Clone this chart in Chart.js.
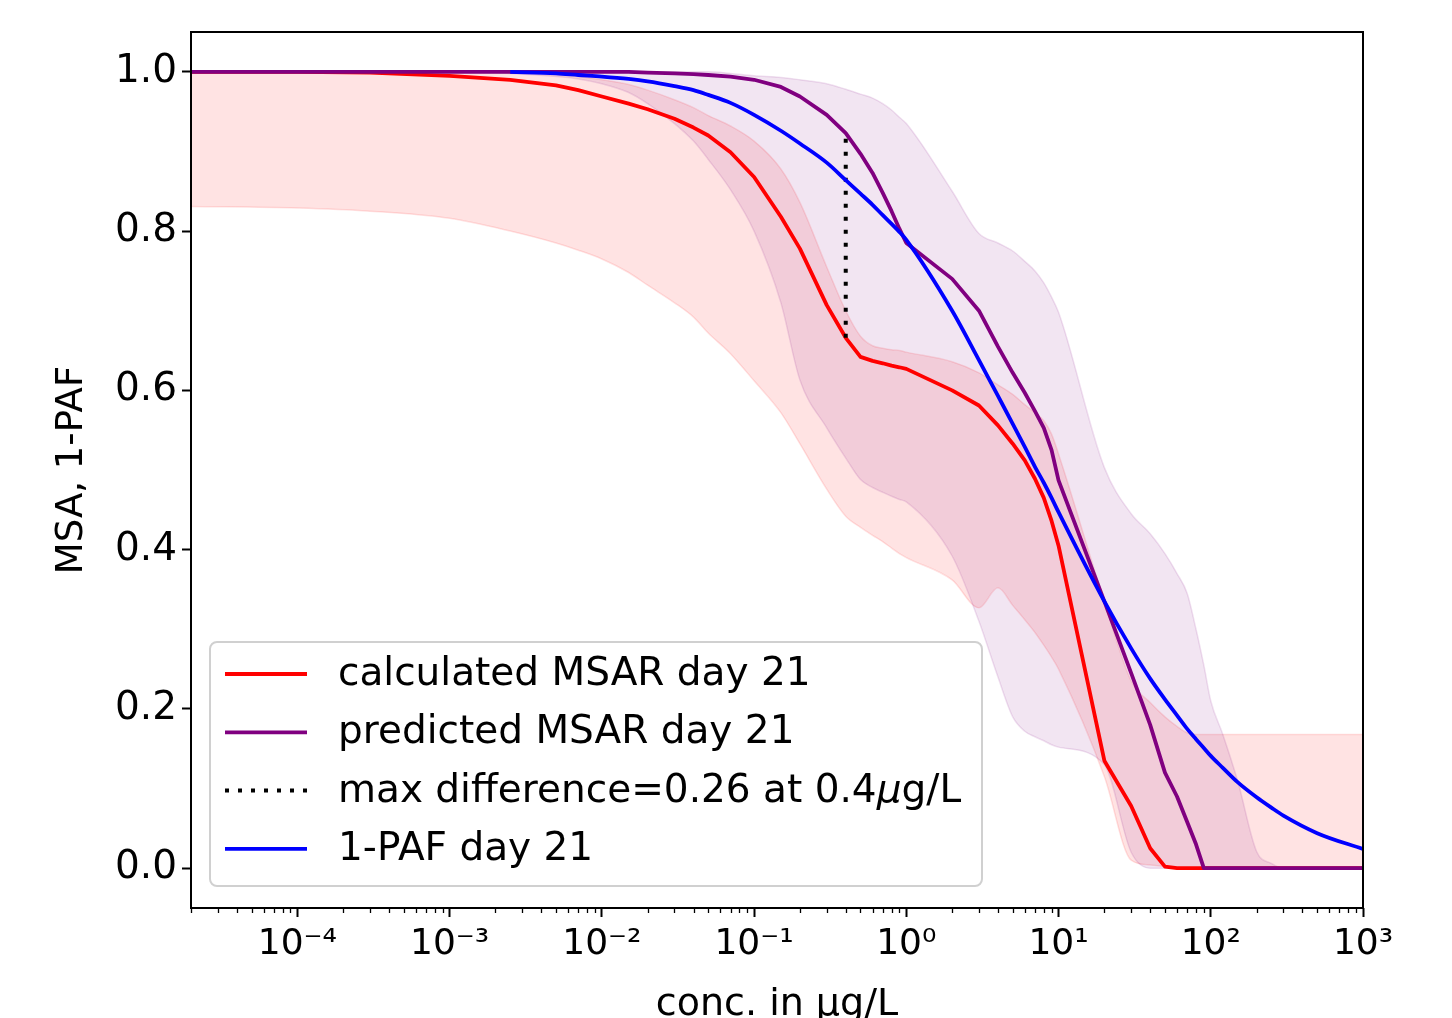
<!DOCTYPE html>
<html>
<head>
<meta charset="utf-8">
<title>MSA vs 1-PAF</title>
<script src="https://cdn.jsdelivr.net/npm/chart.js@4.4.1/dist/chart.umd.min.js"></script>
<style>
  html, body { margin: 0; padding: 0; background: #fff; }
  #wrap { position: relative; width: 1452px; height: 1018px; }
</style>
</head>
<body>
<div id="wrap"><canvas id="msaChart"></canvas></div>
<script>
const conc = [2e-5, 1e-4, 3e-4, 1e-3, 2.5e-3, 5e-3, 7e-3, 1e-2, 1.5e-2, 2e-2, 3e-2, 4e-2, 5e-2, 7e-2,
  0.1, 0.15, 0.2, 0.3, 0.4, 0.5, 0.6, 0.7, 0.8, 0.9, 1,
  2, 3, 4, 5, 6, 7, 8, 9, 10,
  20, 30, 40, 50, 60, 70, 80, 90, 100, 120, 150, 200, 250, 300, 500, 1000];

const calculated = [1.0, 1.0, 0.999, 0.995, 0.99, 0.983, 0.977, 0.969, 0.96, 0.953, 0.941, 0.93, 0.92, 0.899,
  0.868, 0.818, 0.778, 0.707, 0.666, 0.642, 0.637, 0.634, 0.631, 0.629, 0.627,
  0.6, 0.581, 0.556, 0.533, 0.512, 0.489, 0.465, 0.436, 0.405,
  0.135, 0.078, 0.025, 0.002, 0, 0, 0, 0, 0, 0, 0, 0, 0, 0, 0, 0];
const calculatedUpper = [1.0, 1.0, 1.0, 1.0, 1.0, 0.997, 0.994, 0.99, 0.984, 0.977, 0.965, 0.955, 0.945, 0.932,
  0.913, 0.878, 0.836, 0.755, 0.7, 0.668, 0.656, 0.653, 0.651, 0.65, 0.648,
  0.636, 0.622, 0.607, 0.595, 0.582, 0.572, 0.562, 0.545, 0.52,
  0.335, 0.235, 0.208, 0.19, 0.178, 0.17, 0.168, 0.168, 0.168, 0.168, 0.168, 0.168, 0.168, 0.168, 0.168, 0.168];
const calculatedLower = [0.831, 0.829, 0.825, 0.816, 0.8, 0.785, 0.776, 0.765, 0.748, 0.732, 0.71, 0.692, 0.672, 0.646,
  0.612, 0.572, 0.533, 0.476, 0.442, 0.428, 0.418, 0.41, 0.402, 0.395, 0.39,
  0.362, 0.327, 0.352, 0.33, 0.312, 0.296, 0.28, 0.265, 0.25,
  0.115, 0.01, 0.004, 0.002, 0, 0, 0, 0, 0, 0, 0, 0, 0, 0, 0, 0];

const predicted = [1.0, 1.0, 1.0, 1.0, 1.0, 1.0, 1.0, 1.0, 1.0, 0.999, 0.998, 0.997, 0.996, 0.994,
  0.99, 0.981, 0.969, 0.946, 0.923, 0.897, 0.873, 0.848, 0.825, 0.803, 0.785,
  0.74, 0.7, 0.655, 0.622, 0.597, 0.574, 0.553, 0.525, 0.487,
  0.335, 0.245, 0.18, 0.12, 0.09, 0.058, 0.03, 0.0, 0, 0, 0, 0, 0, 0, 0, 0];
const predictedUpper = [1.0, 1.0, 1.0, 1.0, 1.0, 1.0, 1.0, 1.0, 1.0, 1.0, 1.0, 1.0, 1.0, 0.998,
  0.995, 0.993, 0.99, 0.985, 0.978, 0.972, 0.967, 0.96, 0.952, 0.943, 0.935,
  0.85, 0.797, 0.785, 0.775, 0.762, 0.75, 0.735, 0.717, 0.698,
  0.503, 0.445, 0.42, 0.395, 0.37, 0.345, 0.3, 0.255, 0.21, 0.168, 0.11, 0.021, 0.006, 0, 0, 0];
const predictedLower = [1.0, 1.0, 1.0, 1.0, 0.998, 0.994, 0.991, 0.985, 0.974, 0.96, 0.935, 0.913, 0.89, 0.852,
  0.8, 0.71, 0.613, 0.553, 0.515, 0.488, 0.478, 0.472, 0.467, 0.463, 0.46,
  0.392, 0.31, 0.24, 0.19, 0.172, 0.165, 0.16, 0.155, 0.152,
  0.13, 0.02, 0, 0, 0, 0, 0, 0, 0, 0, 0, 0, 0, 0, 0, 0];

const paf = [null, null, null, null, 1.0, 0.998, 0.996, 0.994, 0.991, 0.988, 0.982, 0.977, 0.971, 0.961,
  0.946, 0.926, 0.91, 0.886, 0.864, 0.847, 0.833, 0.82, 0.809, 0.799, 0.789,
  0.7, 0.638, 0.593, 0.558, 0.529, 0.504, 0.484, 0.465, 0.447,
  0.335, 0.276, 0.238, 0.212, 0.192, 0.175, 0.162, 0.151, 0.141, 0.126, 0.108, 0.089, 0.076, 0.066, 0.044, 0.024];

const maxDiffConc = 0.4;
const xTicks = [1e-4, 1e-3, 1e-2, 1e-1, 1, 10, 100, 1000];
const yTicks = [0, 0.2, 0.4, 0.6, 0.8, 1.0];

const FONT = "'DejaVu Sans', sans-serif";
const SUP = { "-": "\u207B", "0": "\u2070", "1": "\u00B9", "2": "\u00B2", "3": "\u00B3", "4": "\u2074", "5": "\u2075" };

function toPoints(vals) {
  return conc.map(function (c, i) { return { x: c, y: vals[i] }; });
}

function drawLabel(ctx, text, x, y, size) {
  // mathtext style: the micro sign is set in italics
  const parts = text.split(/(\u03bc)/);
  let cx = x;
  parts.forEach(function (p) {
    if (!p) return;
    ctx.font = (p === "\u03bc" ? "italic " : "") + size + "px " + FONT;
    ctx.fillText(p, cx, y);
    cx += ctx.measureText(p).width;
  });
}

const framePlugin = {
  id: "frame",
  afterDatasetsDraw(chart) {
    const ctx = chart.ctx;
    const a = chart.chartArea;
    const xs = chart.scales.x;
    ctx.save();
    ctx.strokeStyle = "#000";
    ctx.lineWidth = 2;
    ctx.strokeRect(a.left, a.top, a.right - a.left, a.bottom - a.top);
    // minor ticks of the log axis
    ctx.lineWidth = 1.3;
    ctx.beginPath();
    for (let e = -5; e < 3; e++) {
      for (let k = 2; k <= 9; k++) {
        const v = k * Math.pow(10, e);
        if (v < xs.min || v > xs.max) continue;
        const px = Math.round(xs.getPixelForValue(v)) + 0.5;
        ctx.moveTo(px, a.bottom);
        ctx.lineTo(px, a.bottom + 5);
      }
    }
    ctx.stroke();
    ctx.restore();
  },
};

const legendPlugin = {
  id: "boxLegend",
  afterDraw(chart) {
    const ctx = chart.ctx;
    const a = chart.chartArea;
    const items = chart.data.datasets.filter(function (d) { return d.inLegend; });
    const bx = a.left + 19, by = a.bottom - 266, bw = 772, bh = 244;
    ctx.save();
    ctx.beginPath();
    ctx.roundRect(bx, by, bw, bh, 7);
    ctx.fillStyle = "rgba(255,255,255,0.8)";
    ctx.fill();
    ctx.strokeStyle = "#d0d0d0";
    ctx.lineWidth = 2;
    ctx.stroke();
    items.forEach(function (d, i) {
      const ry = by + 32 + i * 58.3;
      ctx.beginPath();
      ctx.strokeStyle = d.borderColor;
      ctx.lineWidth = d.borderWidth;
      ctx.setLineDash(d.borderDash || []);
      ctx.moveTo(bx + 15, ry);
      ctx.lineTo(bx + 97, ry);
      ctx.stroke();
      ctx.setLineDash([]);
      ctx.fillStyle = "#000";
      ctx.textBaseline = "middle";
      drawLabel(ctx, d.label, bx + 128, ry + 1, 39);
    });
    ctx.restore();
  },
};

const diffIdx = conc.indexOf(maxDiffConc);
const bandLine = { pointRadius: 0, borderWidth: 1.5, cubicInterpolationMode: "monotone" };

new Chart(document.getElementById("msaChart"), {
  type: "line",
  data: {
    datasets: [
      {
        label: "calculated MSAR day 21", inLegend: true, order: 3,
        data: toPoints(calculated), borderColor: "#ff0000", borderWidth: 3.8,
        pointRadius: 0, fill: false, tension: 0, borderJoinStyle: "round",
      },
      {
        label: "predicted MSAR day 21", inLegend: true, order: 2,
        data: toPoints(predicted), borderColor: "#800080", borderWidth: 3.8,
        pointRadius: 0, fill: false, tension: 0, borderJoinStyle: "round",
      },
      {
        label: "max difference=0.26 at 0.4\u03bcg/L", inLegend: true, order: 1,
        data: [
          { x: maxDiffConc, y: calculated[diffIdx] },
          { x: maxDiffConc, y: predicted[diffIdx] },
        ],
        borderColor: "#000", borderWidth: 4, borderDash: [4, 9], borderCapStyle: "butt",
        pointRadius: 0, fill: false,
      },
      {
        label: "1-PAF day 21", inLegend: true, order: 0,
        data: toPoints(paf), borderColor: "#0000ff", borderWidth: 3.8,
        pointRadius: 0, fill: false, cubicInterpolationMode: "monotone",
      },
      Object.assign({
        label: "calculated upper", order: 6, data: toPoints(calculatedUpper),
        borderColor: "rgba(255,0,0,0.12)", backgroundColor: "rgba(255,0,0,0.11)", fill: "+1",
      }, bandLine),
      Object.assign({
        label: "calculated lower", order: 7, data: toPoints(calculatedLower),
        borderColor: "rgba(255,0,0,0.12)", fill: false,
      }, bandLine),
      Object.assign({
        label: "predicted upper", order: 4, data: toPoints(predictedUpper),
        borderColor: "rgba(128,0,128,0.12)", backgroundColor: "rgba(128,0,128,0.1)", fill: "+1",
      }, bandLine),
      Object.assign({
        label: "predicted lower", order: 5, data: toPoints(predictedLower),
        borderColor: "rgba(128,0,128,0.12)", fill: false,
      }, bandLine),
    ],
  },
  options: {
    responsive: true,
    maintainAspectRatio: false,
    animation: false,
    layout: { padding: { left: 50, right: 89, top: 32, bottom: 0 } },
    plugins: {
      legend: { display: false },
      tooltip: { enabled: false },
    },
    scales: {
      x: {
        type: "logarithmic",
        min: 2e-5,
        max: 1000,
        afterBuildTicks(scale) {
          scale.ticks = xTicks.map(function (v) { return { value: v }; });
        },
        afterFit(scale) { scale.height = 110; },
        ticks: {
          autoSkip: false,
          maxRotation: 0,
          color: "#000",
          padding: 6,
          font: { family: FONT, size: 36 },
          callback: function (v) {
            const e = String(Math.round(Math.log10(v)));
            return "10" + e.split("").map(function (ch) { return SUP[ch]; }).join("");
          },
        },
        grid: { drawOnChartArea: false, tickLength: 9, tickWidth: 2, tickColor: "#000" },
        border: { display: false },
        title: {
          display: true,
          text: "conc. in \u03bcg/L",
          color: "#000",
          font: { family: FONT, size: 38 },
          padding: { top: 4, bottom: -10 },
        },
      },
      y: {
        min: -0.05,
        max: 1.05,
        afterBuildTicks(scale) {
          scale.ticks = yTicks.map(function (v) { return { value: v }; });
        },
        afterFit(scale) { scale.width = 141; },
        ticks: {
          color: "#000",
          padding: 5,
          font: { family: FONT, size: 39 },
          callback: function (v) { return v.toFixed(1); },
        },
        grid: { drawOnChartArea: false, tickLength: 9, tickWidth: 2, tickColor: "#000" },
        border: { display: false },
        title: {
          display: true,
          text: "MSA, 1-PAF",
          color: "#000",
          font: { family: FONT, size: 37 },
          padding: 0,
        },
      },
    },
  },
  plugins: [framePlugin, legendPlugin],
});
</script>
</body>
</html>
